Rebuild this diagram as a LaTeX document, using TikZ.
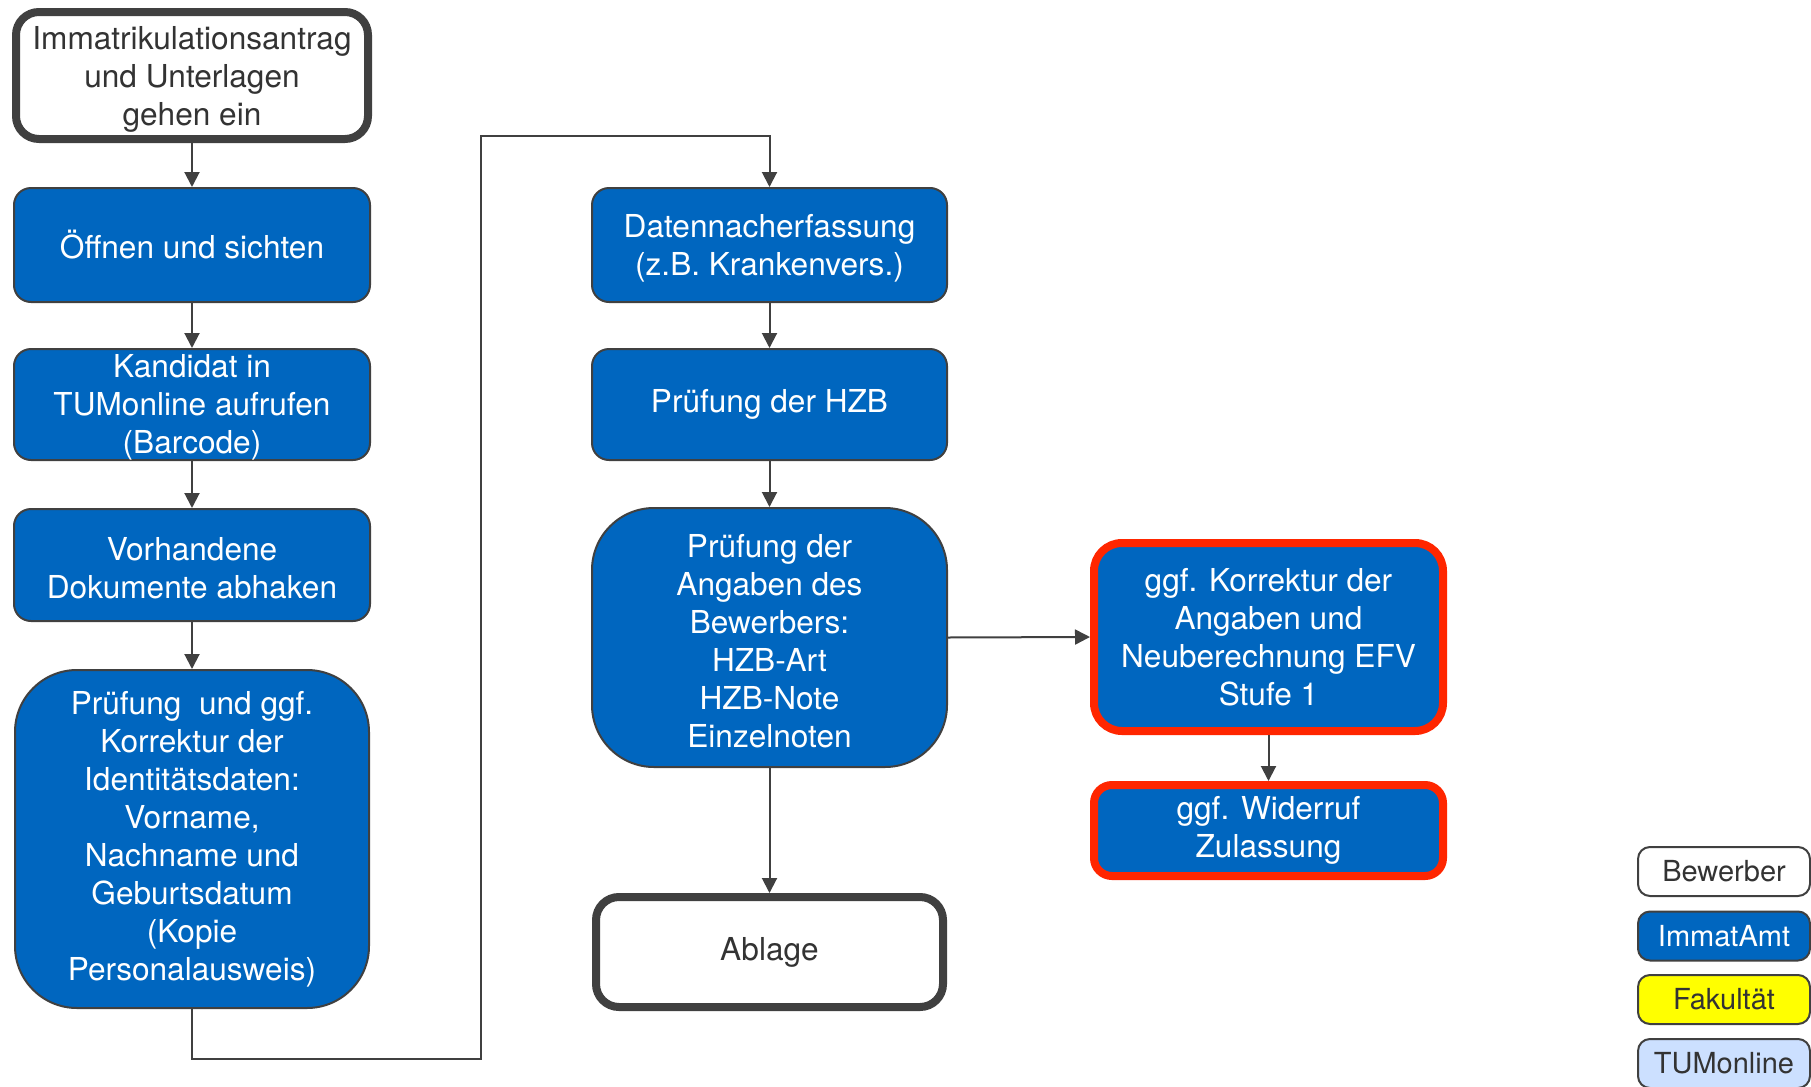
\documentclass[tikz,border=0pt]{standalone}
\usepackage{fontspec}
\setmainfont{TeX Gyre Heros}
\usetikzlibrary{arrows.meta}
\definecolor{blu}{RGB}{0,102,191}
\definecolor{bord}{RGB}{64,64,64}
\definecolor{redb}{RGB}{255,38,0}
\definecolor{txtg}{RGB}{51,51,51}
\definecolor{lblue}{RGB}{204,224,255}
\definecolor{yel}{RGB}{255,255,0}
\newcommand\tpush[1]{\rule{0pt}{#1}}
\begin{document}
\begin{tikzpicture}[x=0.5pt,y=-0.5pt,
  box/.style={draw=bord,line width=1pt,fill=blu,text=white,rounded corners=8.5pt,align=center,
    font=\fontsize{15.8}{19}\selectfont,inner sep=0pt},
  bigbox/.style={box,rounded corners=31pt},
  wbox/.style={box,fill=white,text=txtg,line width=4pt},
  redbox/.style={box,draw=redb,line width=4pt},
  legbox/.style={box,font=\fontsize{14.5}{16}\selectfont,minimum width=86pt,minimum height=24.5pt,rounded corners=6pt},
  conn/.style={draw=bord,line width=1pt,-{Triangle[width=7.5pt,length=7.5pt]}}]
\fill[white] (0,0) rectangle (1811,1087);
\useasboundingbox (0,0) rectangle (1811,1087);
% column 1
\node[wbox,rounded corners=11.5pt,minimum width=176pt,minimum height=63.5pt] (n1) at (192,75.5)
  {\tpush{15pt}Immatrikulationsantrag\\und Unterlagen\\gehen ein};
\node[box,minimum width=178pt,minimum height=57pt] (n2) at (192,245) {Öffnen und sichten};
\node[box,minimum width=178pt,minimum height=55.5pt] (n3) at (192,404.5) {\tpush{14pt}Kandidat in\\TUMonline aufrufen\\(Barcode)};
\node[box,minimum width=178pt,minimum height=56pt] (n4) at (192,565) {\tpush{15pt}Vorhandene\\Dokumente abhaken};
\node[bigbox,minimum width=177pt,minimum height=169pt] (n5) at (192,839)
  {Prüfung\ \ und ggf.\\Korrektur der\\Identitätsdaten:\\Vorname,\\Nachname und\\ Geburtsdatum\\(Kopie\\Personalausweis)};
% column 2
\node[box,minimum width=177.5pt,minimum height=57pt] (n6) at (769.5,245) {\tpush{15pt}Datennacherfassung\\(z.B. Krankenvers.)};
\node[box,minimum width=177.5pt,minimum height=55.5pt] (n7) at (769.5,404.5) {Prüfung der HZB};
\node[bigbox,minimum width=177.5pt,minimum height=129.5pt] (n8) at (769.5,637.5)
  {\tpush{15pt}Prüfung der\\Angaben des\\ Bewerbers:\\HZB-Art\\HZB-Note\\Einzelnoten};
\node[wbox,rounded corners=11.5pt,minimum width=173.5pt,minimum height=55pt] (n9) at (769.5,952) {Ablage};
% column 3
\node[redbox,rounded corners=14pt,minimum width=174.5pt,minimum height=94pt] (n10) at (1268.5,637)
  {ggf. Korrektur der\\Angaben und\\Neuberechnung EFV\\Stufe 1};
\node[redbox,rounded corners=9pt,minimum width=174.5pt,minimum height=45.5pt] (n11) at (1268.5,830.5)
  {ggf. Widerruf\\Zulassung};
% connectors
\draw[conn] (n1) -- (n2);
\draw[conn] (n2) -- (n3);
\draw[conn] (n3) -- (n4);
\draw[conn] (n4) -- (n5);
\coordinate (c1) at (481,1059);
\coordinate (c2) at (481,136);
\draw[conn] (n5.south) |- (c1) -- (c2) -| (n6.north);
\draw[conn] (n6) -- (n7);
\draw[conn] (n7) -- (n8);
\draw[conn] (n8) -- (n9);
\draw[conn] (n8.east) -- (n10.west);
\draw[conn] (n10) -- (n11);
% legend
\begin{scope}
\clip (0,0) rectangle (1811,1087);
\node[legbox,fill=white,text=txtg] (l1) at (1724,871.5) {Bewerber};
\node[legbox] (l2) at (1724,936) {ImmatAmt};
\node[legbox,fill=yel,text=txtg] (l3) at (1724,999.5) {Fakultät};
\node[legbox,fill=lblue,text=txtg] (l4) at (1724,1063.5) {TUMonline};
\end{scope}
\end{tikzpicture}
\end{document}
